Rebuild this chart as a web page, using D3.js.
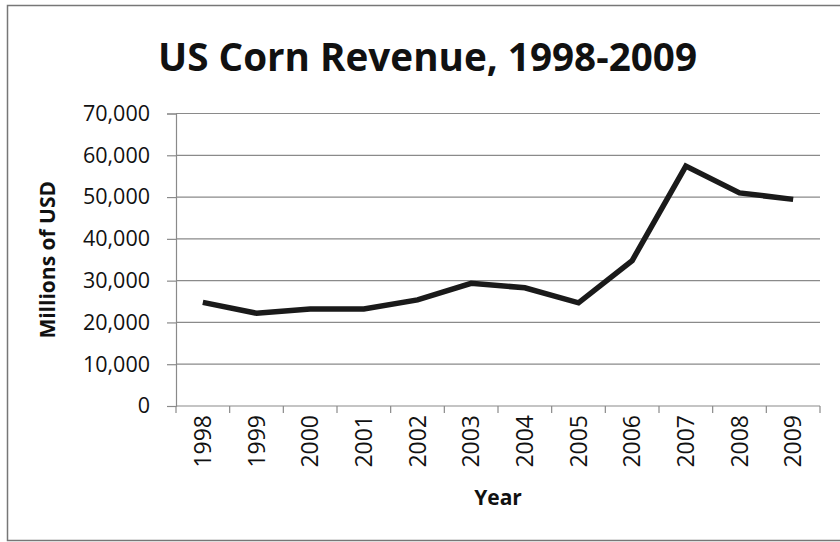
<!DOCTYPE html>
<html>
<head>
<meta charset="utf-8">
<script src="https://cdn.jsdelivr.net/npm/d3@7"></script>
<style>
  html, body { margin: 0; padding: 0; background: #fff; }
  svg { display: block; }
  text { font-family: "Open Sans", "Liberation Sans", sans-serif; fill: #111; }
</style>
</head>
<body>
<svg id="chart" width="840" height="542"></svg>
<script>
// US corn revenue, millions of USD
const years = ["1998","1999","2000","2001","2002","2003","2004","2005","2006","2007","2008","2009"];
const revenue = [24800, 22200, 23200, 23200, 25400, 29350, 28300, 24700, 34800, 57400, 51000, 49450];
const yTicks = [0, 10000, 20000, 30000, 40000, 50000, 60000, 70000];

const titleText = "US Corn Revenue, 1998-2009";
const xTitle = "Year";
const yTitle = "Millions of USD";

const svg = d3.select("#chart");
const margin = { left: 176, right: 20, top: 113.5, bottom: 136 };
const W = 840, H = 542;

// outer frame
svg.append("rect")
  .attr("x", 7.5).attr("y", 5.5)
  .attr("width", 840).attr("height", 535)
  .attr("fill", "#fff").attr("stroke", "#777").attr("stroke-width", 1.5);

const x = d3.scaleBand().domain(years)
  .range([margin.left, W - margin.right]).paddingInner(0).paddingOuter(0);
const y = d3.scaleLinear().domain([0, 70000]).range([H - margin.bottom, margin.top]);

// horizontal gridlines
svg.append("g")
  .selectAll("line")
  .data(yTicks.filter(d => d > 0))
  .join("line")
  .attr("x1", margin.left).attr("x2", W - margin.right)
  .attr("y1", d => y(d)).attr("y2", d => y(d))
  .attr("stroke", "#8a8a8a").attr("stroke-width", 1.2);

// y axis
const fmt = d3.format(",");
const yAxis = svg.append("g")
  .attr("transform", `translate(${margin.left},0)`)
  .call(d3.axisLeft(y).tickValues(yTicks).tickFormat(fmt).tickSize(9).tickPadding(17));
yAxis.select(".domain").attr("stroke", "#8a8a8a").attr("stroke-width", 1.2);
yAxis.selectAll(".tick line").attr("stroke", "#8a8a8a").attr("stroke-width", 1.2);
yAxis.selectAll(".tick text")
  .style("font-family", "'Open Sans', sans-serif")
  .style("font-size", "21.5px").attr("fill", "#111");

// x axis with boundary ticks between categories
const xAxisG = svg.append("g")
  .attr("transform", `translate(0,${y(0)})`);
xAxisG.append("line")
  .attr("x1", margin.left).attr("x2", W - margin.right)
  .attr("stroke", "#8a8a8a").attr("stroke-width", 1.2);
const bounds = years.map(d => x(d)).concat([x(years[years.length - 1]) + x.bandwidth()]);
xAxisG.selectAll("line.bt")
  .data(bounds)
  .join("line").attr("class", "bt")
  .attr("x1", d => d).attr("x2", d => d)
  .attr("y1", 0).attr("y2", 7)
  .attr("stroke", "#8a8a8a").attr("stroke-width", 1.2);
xAxisG.selectAll("text.xl")
  .data(years)
  .join("text").attr("class", "xl")
  .attr("transform", d => `translate(${x(d) + x.bandwidth() / 2 + 8},${9}) rotate(-90)`)
  .attr("text-anchor", "end")
  .style("font-size", "23px")
  .text(d => d);

// revenue line
const line = d3.line()
  .x((d, i) => x(years[i]) + x.bandwidth() / 2)
  .y(d => y(d));
svg.append("path")
  .datum(revenue)
  .attr("d", line)
  .attr("fill", "none")
  .attr("stroke", "#1a1a1a")
  .attr("stroke-width", 5.5)
  .attr("stroke-linejoin", "miter")
  .attr("stroke-linecap", "butt");

// title
svg.append("text")
  .attr("x", 427.5).attr("y", 71)
  .attr("text-anchor", "middle")
  .attr("textLength", 539).attr("lengthAdjust", "spacingAndGlyphs")
  .style("font-size", "40px").style("font-weight", "700")
  .text(titleText);

// axis titles
svg.append("text")
  .attr("x", (margin.left + W - margin.right) / 2).attr("y", 505)
  .attr("text-anchor", "middle")
  .style("font-size", "21px").style("font-weight", "700")
  .text(xTitle);

svg.append("text")
  .attr("transform", `translate(55,${(y(0) + y(70000)) / 2}) rotate(-90)`)
  .attr("text-anchor", "middle")
  .style("font-size", "21px").style("font-weight", "700")
  .text(yTitle);
</script>
</body>
</html>
